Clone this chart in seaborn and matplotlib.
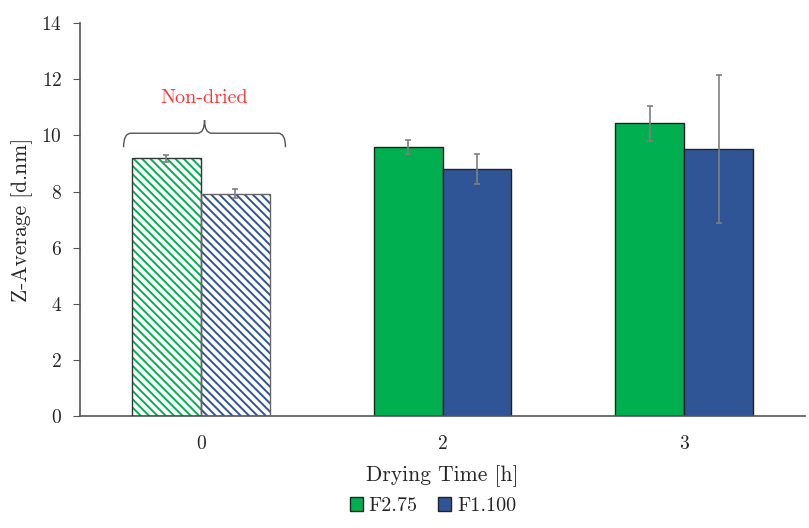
import matplotlib
matplotlib.use("Agg")
import matplotlib.pyplot as plt
from matplotlib.path import Path
from matplotlib.patches import PathPatch, Patch
import numpy as np
import pandas as pd
import seaborn as sns

# datos
tiempos = ["0", "2", "3"]
formulaciones = ["F2.75", "F1.100"]
z_f275 = [9.19, 9.60, 10.44]
z_f1100 = [7.93, 8.81, 9.52]
sd_f275 = [0.12, 0.25, 0.62]
sd_f1100 = [0.15, 0.53, 2.64]
colores = ["#00B050", "#2F5597"]

df = pd.DataFrame({
    "tiempo": tiempos * 2,
    "form": [formulaciones[0]] * 3 + [formulaciones[1]] * 3,
    "z": z_f275 + z_f1100,
    "sd": sd_f275 + sd_f1100,
})

sns.set_style("white")
plt.rcParams["font.family"] = ["cmr10", "DejaVu Serif"]
plt.rcParams["axes.formatter.use_mathtext"] = True
plt.rcParams["hatch.linewidth"] = 1.4

fig = plt.figure(figsize=(8.09, 5.28), dpi=100)
ax = fig.add_axes([0.099, 0.212, 0.896, 0.744])

sns.barplot(data=df, x="tiempo", y="z", hue="form", order=tiempos,
            hue_order=formulaciones, palette=colores, saturation=1,
            width=0.57, gap=0, errorbar=None, edgecolor="#222222",
            linewidth=1.0, ax=ax, legend=False)

# barras y barras de error
barras = ax.patches[:6]
for k, p in enumerate(barras):
    i_form, i_t = divmod(k, 3)
    xc = p.get_x() + p.get_width() / 2
    ax.errorbar(xc, p.get_height(), yerr=df["sd"].iloc[k], color="#7f7f7f",
                capsize=2.5, elinewidth=1.2, capthick=1.2, zorder=5)
    if i_t == 0:
        # sin secar: rayado
        col = colores[i_form]
        p.set_facecolor("white")
        p.set_edgecolor(col)
        p.set_hatch("\\\\\\\\")
        p.set_linewidth(0)
        ax.bar(xc, p.get_height(), width=p.get_width(), fill=False,
               edgecolor="#333333" if i_form == 0 else "#666666",
               linewidth=1.0, zorder=4)

# llave "Non-dried"
x0, x1 = -0.32, 0.35
xm = (x0 + x1) / 2
yb, yl, yt = 9.58, 10.08, 10.55
dx = 0.03
verts = [(x0, yb), (x0, yl), (x0 + dx, yl),
         (xm - dx, yl), (xm, yl), (xm, yt),
         (xm, yl), (xm + dx, yl),
         (x1 - dx, yl), (x1, yl), (x1, yb)]
codes = [Path.MOVETO, Path.CURVE3, Path.CURVE3,
         Path.LINETO, Path.CURVE3, Path.CURVE3,
         Path.CURVE3, Path.CURVE3,
         Path.LINETO, Path.CURVE3, Path.CURVE3]
ax.add_patch(PathPatch(Path(verts, codes), fill=False, edgecolor="#555555",
                       linewidth=1.0))
ax.text(xm, 11.35, "Non-dried", color="#FF3333", ha="center", va="center",
        fontsize=14.5)

ax.set_ylim(0, 14)
ax.set_xlim(-0.5, 2.5)
ax.set_yticks(np.arange(0, 15, 2))
ax.set_xlabel("Drying Time [h]", fontsize=15.5, labelpad=9)
ax.set_ylabel("Z-Average [d.nm]", fontsize=15.5, labelpad=6)
ax.tick_params(axis="y", left=True, length=5, color="#555555", labelsize=14,
               pad=8)
ax.tick_params(axis="x", bottom=False, labelsize=14, pad=10)
for s in ["top", "right"]:
    ax.spines[s].set_visible(False)
for s in ["left", "bottom"]:
    ax.spines[s].set_color("#555555")
    ax.spines[s].set_linewidth(1.2)

handles = [Patch(facecolor=c, edgecolor="#222222", label=f)
           for c, f in zip(colores, formulaciones)]
fig.legend(handles=handles, loc="lower center", ncol=2, frameon=False,
           fontsize=14.5, handlelength=0.65, handleheight=0.65,
           handletextpad=0.3, columnspacing=1.0, bbox_to_anchor=(0.535, -0.01))

fig.savefig("out.png", dpi=100)
